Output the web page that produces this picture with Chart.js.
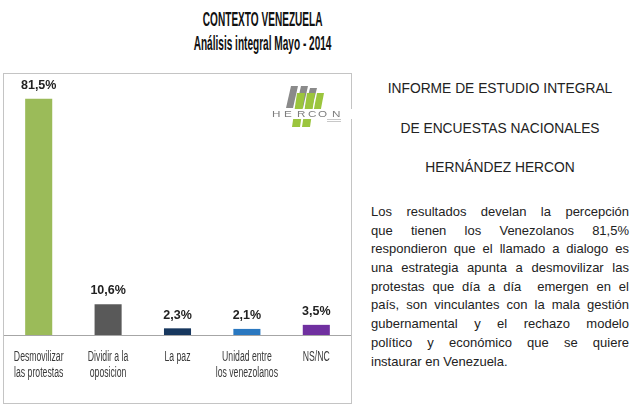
<!DOCTYPE html>
<html>
<head>
<meta charset="utf-8">
<script src="https://cdn.jsdelivr.net/npm/chart.js@4/dist/chart.umd.min.js"></script>
<style>
    html, body { margin: 0; padding: 0; background: #fff; }
    body { width: 640px; height: 415px; position: relative; overflow: hidden; font-family: Arial, "Liberation Sans", sans-serif; }
    .title { position: absolute; left: 0; width: 526px; text-align: center; font-weight: bold; color: #111; }
    .title span { display: inline-block; transform: scaleX(0.48); }
    #t1 { top: 7px; font-size: 21px; }
    #t2 { top: 31px; font-size: 21px; }
    .chart-box { position: absolute; left: 3px; top: 73px; width: 347px; height: 329px; border: 1px solid #c4c4c4; }
    #chart { display: block; }
    #logo { position: absolute; left: 268px; top: 12px; }
    .head { position: absolute; left: 360px; width: 280px; text-align: center; font-size: 13.8px; color: #222; }
    .para { position: absolute; left: 371px; top: 203px; width: 258px; font-size: 13px; line-height: 18.7px; color: #222; }
    .para div { height: 18.7px; white-space: nowrap; text-align: justify; text-align-last: justify; }
    .para div.last { text-align-last: left; }
</style>
</head>
<body>
<div class="title" id="t1"><span>CONTEXTO VENEZUELA</span></div>
<div class="title" id="t2"><span>Análisis integral Mayo - 2014</span></div>

<div class="chart-box">
    <canvas id="chart" width="347" height="329"></canvas>
    <canvas id="logo" width="80" height="45"></canvas>
</div>

<div class="head" style="top:81px">INFORME DE ESTUDIO INTEGRAL</div>
<div class="head" style="top:121px">DE ENCUESTAS NACIONALES</div>
<div class="head" style="top:160px">HERNÁNDEZ HERCON</div>

<div class="para">
    <div>Los resultados develan la percepción</div>
    <div>que tienen los Venezolanos 81,5%</div>
    <div>respondieron que el llamado a dialogo es</div>
    <div>una estrategia apunta a desmovilizar las</div>
    <div>protestas que día a día&nbsp; emergen en el</div>
    <div>país, son vinculantes con la mala gestión</div>
    <div>gubernamental y el rechazo modelo</div>
    <div>político y económico que se quiere</div>
    <div class="last">instaurar en Venezuela.</div>
</div>

<script>
// Chart data
const categories = [
    ['Desmovilizar', 'las protestas'],
    ['Dividir a la', 'oposicion'],
    ['La paz'],
    ['Unidad entre', 'los venezolanos'],
    ['NS/NC']
];
const values = [81.5, 10.6, 2.3, 2.1, 3.5];
const barColors = ['#9bbb59', '#595959', '#17375e', '#2a78c0', '#7030a0'];

// Value labels above bars (comma decimals)
const valueLabels = {
    id: 'valueLabels',
    afterDatasetsDraw(chart) {
        const ctx = chart.ctx;
        const meta = chart.getDatasetMeta(0);
        ctx.save();
        ctx.font = 'bold 12.5px Arial, "Liberation Sans", sans-serif';
        ctx.fillStyle = '#222';
        ctx.textAlign = 'center';
        ctx.textBaseline = 'bottom';
        meta.data.forEach((bar, i) => {
            const txt = values[i].toFixed(1).replace('.', ',') + '%';
            ctx.fillText(txt, bar.x, bar.y - 7);
        });
        ctx.restore();
    }
};

// Condensed category labels, placed at the x scale's tick pixels
const narrowTicks = {
    id: 'narrowTicks',
    afterDraw(chart) {
        const ctx = chart.ctx;
        const xs = chart.scales.x;
        ctx.save();
        ctx.font = '14px Arial, "Liberation Sans", sans-serif';
        ctx.fillStyle = '#3a3a3a';
        ctx.textAlign = 'center';
        ctx.textBaseline = 'middle';
        chart.data.labels.forEach((lines, i) => {
            const x = xs.getPixelForTick(i);
            lines.forEach((line, j) => {
                ctx.save();
                ctx.translate(x, xs.top + 22 + j * 16);
                ctx.scale(0.62, 1);
                ctx.fillText(line, 0, 0);
                ctx.restore();
            });
        });
        ctx.restore();
    }
};

new Chart(document.getElementById('chart'), {
    type: 'bar',
    data: {
        labels: categories,
        datasets: [{
            data: values,
            backgroundColor: barColors,
            borderWidth: 0,
            barPercentage: 0.39,
            categoryPercentage: 1
        }]
    },
    options: {
        responsive: false,
        animation: false,
        layout: { padding: 0 },
        plugins: {
            legend: { display: false },
            tooltip: { enabled: false }
        },
        scales: {
            x: {
                grid: { display: false, drawTicks: false },
                border: { display: true, color: '#a6a6a6', width: 1 },
                ticks: { display: false },
                afterFit(scale) { scale.height = 68; }
            },
            y: {
                display: false,
                min: 0,
                max: 90
            }
        }
    },
    plugins: [valueLabels, narrowTicks]
});

// HERCON logo (decoration)
(function drawLogo() {
    const ctx = document.getElementById('logo').getContext('2d');
    function slab(x, y, w, h, color) {
        ctx.fillStyle = color;
        ctx.beginPath();
        ctx.moveTo(x + 5, y);
        ctx.lineTo(x + w + 5, y);
        ctx.lineTo(x + w, y + h);
        ctx.lineTo(x, y + h);
        ctx.closePath();
        ctx.fill();
    }
    slab(14, 0, 7, 22, '#8a8a8a');
    slab(24, 0, 7, 22, '#8a8a8a');
    slab(33, 2, 7, 20, '#8a8a8a');
    slab(20, 7, 8, 34, '#9bc53d');
    slab(30, 7, 8, 34, '#9bc53d');
    slab(40, 7, 7, 26, '#9bc53d');
    ctx.fillStyle = '#fff';
    ctx.fillRect(0, 23, 80, 10);
    ctx.font = '9px Arial, sans-serif';
    ctx.textBaseline = 'alphabetic';
    const letters = 'HERCON';
    const xs = [0, 12, 25, 36, 46, 60];
    letters.split('').forEach((c, i) => {
        ctx.save();
        ctx.translate(xs[i], 31);
        ctx.scale(1.3, 1);
        ctx.fillStyle = '#7d7d7d';
        ctx.fillText(c, 0, 0);
        ctx.restore();
    });
    ctx.fillStyle = '#c8c8c8';
    ctx.fillRect(55, 33, 14, 1);
    ctx.fillRect(55, 35, 14, 1);
})();
</script>
</body>
</html>
